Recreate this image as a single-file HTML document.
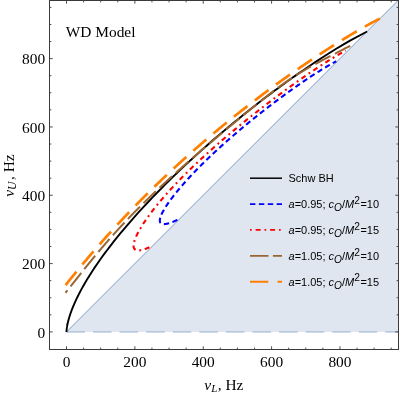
<!DOCTYPE html>
<html><head><meta charset="utf-8"><title>WD Model</title>
<style>
html,body{margin:0;padding:0;background:#fff;}
body{width:399px;height:393px;overflow:hidden;}
svg{display:block;will-change:transform;}
.ser{font-family:"Liberation Serif",serif;font-size:15.4px;fill:#000;}
.san{font-family:"Liberation Sans",sans-serif;font-size:11px;fill:#000;}
</style></head><body>
<svg width="399" height="393" viewBox="0 0 399 393">
<rect width="399" height="393" fill="#fff"/>
<path d="M66.50,331.90 L398.09,0.5 L398.5,0.5 L398.5,331.90 Z" fill="#dfe6f0"/>
<path d="M66.50,331.90 L398.09,0.5" fill="none" stroke="#5e81b5" stroke-opacity="0.85" stroke-width="0.9"/>
<path d="M66.50,331.90 H398.5" fill="none" stroke="#5e81b5" stroke-opacity="0.3" stroke-width="2" stroke-dasharray="18.5 8.07"/>
<g fill="none" stroke-linejoin="round">
<path d="M177.37,219.90 L177.12,220.01 L176.87,220.13 L176.63,220.24 L176.38,220.36 L176.14,220.47 L175.89,220.58 L175.65,220.69 L175.41,220.79 L175.18,220.90 L174.94,221.00 L174.71,221.10 L174.48,221.20 L174.25,221.30 L174.02,221.39 L173.79,221.49 L173.57,221.58 L173.34,221.67 L173.12,221.76 L172.90,221.85 L172.68,221.94 L172.47,222.02 L172.25,222.10 L172.04,222.19 L171.83,222.27 L171.62,222.34 L171.41,222.42 L171.20,222.49 L171.00,222.57 L170.80,222.64 L170.60,222.71 L170.40,222.78 L170.20,222.84 L170.00,222.91 L169.81,222.97 L169.62,223.03 L169.43,223.09 L169.24,223.15 L169.05,223.21 L168.87,223.26 L168.69,223.31 L168.51,223.36 L168.33,223.41 L168.15,223.46 L167.97,223.51 L167.80,223.55 L167.63,223.59 L167.46,223.63 L167.29,223.67 L167.12,223.71 L166.96,223.75 L166.80,223.78 L166.64,223.81 L166.48,223.85 L166.32,223.87 L166.16,223.90 L166.01,223.93 L165.86,223.95 L165.71,223.97 L165.56,223.99 L165.42,224.01 L165.27,224.03 L165.13,224.05 L164.99,224.06 L164.85,224.07 L164.71,224.08 L164.58,224.09 L164.45,224.10 L164.31,224.10 L164.19,224.11 L164.06,224.11 L163.93,224.11 L163.81,224.11 L163.69,224.11 L163.57,224.10 L163.45,224.10 L163.33,224.09 L163.22,224.08 L163.11,224.07 L163.00,224.05 L162.89,224.04 L162.78,224.02 L162.68,224.00 L162.58,223.98 L162.47,223.96 L162.38,223.94 L162.28,223.91 L162.18,223.89 L162.09,223.86 L162.00,223.83 L161.91,223.80 L161.82,223.76 L161.74,223.73 L161.65,223.69 L161.57,223.65 L161.49,223.61 L161.41,223.57 L161.34,223.53 L161.26,223.49 L161.19,223.44 L161.12,223.39 L161.05,223.34 L160.98,223.29 L160.92,223.24 L160.86,223.18 L160.79,223.12 L160.74,223.07 L160.68,223.01 L160.62,222.95 L160.57,222.88 L160.52,222.82 L160.47,222.75 L160.42,222.68 L160.37,222.61 L160.33,222.54 L160.29,222.47 L160.25,222.40 L160.21,222.32 L160.17,222.24 L160.14,222.16 L160.10,222.08 L160.07,222.00 L160.04,221.92 L160.02,221.83 L159.99,221.74 L159.97,221.65 L159.95,221.56 L159.93,221.47 L159.91,221.38 L159.89,221.28 L159.88,221.19 L159.87,221.09 L159.86,220.99 L159.85,220.89 L159.84,220.78 L159.84,220.68 L159.83,220.57 L159.83,220.46 L159.83,220.35 L159.84,220.24 L159.84,220.13 L159.85,220.02 L159.86,219.90 L159.87,219.78 L159.88,219.67 L159.89,219.55 L159.91,219.42 L159.92,219.30 L159.94,219.18 L159.96,219.05 L159.99,218.92 L160.01,218.79 L160.04,218.66 L160.07,218.53 L160.10,218.40 L160.13,218.26 L160.16,218.12 L160.20,217.98 L160.23,217.85 L160.27,217.70 L160.31,217.56 L160.36,217.42 L160.40,217.27 L160.45,217.12 L160.50,216.98 L160.55,216.82 L160.60,216.67 L160.65,216.52 L160.71,216.37 L160.76,216.21 L160.82,216.05 L160.88,215.89 L160.95,215.73 L161.01,215.57 L161.08,215.41 L161.14,215.24 L161.21,215.08 L161.28,214.91 L161.36,214.74 L161.43,214.57 L161.51,214.40 L161.59,214.23 L161.67,214.05 L161.75,213.88 L161.83,213.70 L161.92,213.52 L162.00,213.34 L162.09,213.16 L162.18,212.98 L162.27,212.79 L162.37,212.61 L162.46,212.42 L162.56,212.23 L162.66,212.04 L162.76,211.85 L162.86,211.66 L162.97,211.47 L163.07,211.27 L163.18,211.07 L163.29,210.88 L163.40,210.68 L163.51,210.48 L163.63,210.28 L163.74,210.07 L163.86,209.87 L163.98,209.66 L164.10,209.46 L164.22,209.25 L164.35,209.04 L164.47,208.83 L164.60,208.62 L164.73,208.40 L164.86,208.19 L164.99,207.97 L165.13,207.76 L165.26,207.54 L165.40,207.32 L165.54,207.10 L165.68,206.88 L165.82,206.65 L165.97,206.43 L166.11,206.20 L166.26,205.98 L166.41,205.75 L166.56,205.52 L166.71,205.29 L166.87,205.05 L167.02,204.82 L167.18,204.59 L167.34,204.35 L167.50,204.12 L167.66,203.88 L167.83,203.64 L167.99,203.40 L168.16,203.16 L168.33,202.91 L168.50,202.67 L168.67,202.43 L168.85,202.18 L169.02,201.93 L169.20,201.68 L169.38,201.43 L169.56,201.18 L169.74,200.93 L169.92,200.68 L170.11,200.42 L170.29,200.17 L170.48,199.91 L170.67,199.65 L170.86,199.40 L171.05,199.14 L171.25,198.88 L171.45,198.61 L171.64,198.35 L171.84,198.09 L172.04,197.82 L172.25,197.55 L172.45,197.29 L172.65,197.02 L172.86,196.75 L173.07,196.48 L173.28,196.21 L173.49,195.93 L173.71,195.66 L173.92,195.38 L174.14,195.11 L174.36,194.83 L174.58,194.55 L174.80,194.27 L175.02,193.99 L175.24,193.71 L175.47,193.43 L175.70,193.15 L175.93,192.86 L176.16,192.58 L176.39,192.29 L176.62,192.00 L176.86,191.72 L177.09,191.43 L177.33,191.14 L177.57,190.84 L177.81,190.55 L178.06,190.26 L178.30,189.96 L178.55,189.67 L178.80,189.37 L179.04,189.08 L179.30,188.78 L179.55,188.48 L179.80,188.18 L180.06,187.88 L180.31,187.58 L180.57,187.27 L180.83,186.97 L181.09,186.66 L181.36,186.36 L181.62,186.05 L181.89,185.74 L182.15,185.44 L182.42,185.13 L182.69,184.82 L182.97,184.51 L183.24,184.19 L183.51,183.88 L183.79,183.57 L184.07,183.25 L184.35,182.94 L184.63,182.62 L184.91,182.30 L185.20,181.98 L185.48,181.67 L185.77,181.35 L186.06,181.02 L186.35,180.70 L186.64,180.38 L186.93,180.06 L187.23,179.73 L187.52,179.41 L187.82,179.08 L188.12,178.76 L188.42,178.43 L188.72,178.10 L189.02,177.77 L189.33,177.44 L189.63,177.11 L189.94,176.78 L190.25,176.45 L190.56,176.11 L190.88,175.78 L191.19,175.45 L191.50,175.11 L191.82,174.77 L192.14,174.44 L192.46,174.10 L192.78,173.76 L193.10,173.42 L193.43,173.08 L193.75,172.74 L194.08,172.40 L194.41,172.06 L194.73,171.71 L195.07,171.37 L195.40,171.03 L195.73,170.68 L196.07,170.34 L196.40,169.99 L196.74,169.64 L197.08,169.30 L197.42,168.95 L197.76,168.60 L198.11,168.25 L198.45,167.90 L198.80,167.55 L199.15,167.20 L199.50,166.84 L199.85,166.49 L200.20,166.14 L200.55,165.78 L200.91,165.43 L201.26,165.07 L201.62,164.72 L201.98,164.36 L202.34,164.00 L202.70,163.64 L203.07,163.29 L203.43,162.93 L203.80,162.57 L204.16,162.21 L204.53,161.85 L204.90,161.48 L205.27,161.12 L205.64,160.76 L206.02,160.40 L206.39,160.03 L206.77,159.67 L207.15,159.30 L207.52,158.94 L207.90,158.57 L208.29,158.21 L208.67,157.84 L209.05,157.47 L209.44,157.11 L209.82,156.74 L210.21,156.37 L210.60,156.00 L210.99,155.63 L211.38,155.26 L211.77,154.89 L212.17,154.52 L212.56,154.15 L212.96,153.78 L213.36,153.40 L213.75,153.03 L214.15,152.66 L214.55,152.28 L214.96,151.91 L215.36,151.54 L215.76,151.16 L216.17,150.79 L216.58,150.41 L216.98,150.04 L217.39,149.66 L217.80,149.28 L218.21,148.91 L218.63,148.53 L219.04,148.15 L219.46,147.78 L219.87,147.40 L220.29,147.02 L220.71,146.64 L221.12,146.26 L221.54,145.88 L221.96,145.50 L222.39,145.12 L222.81,144.74 L223.23,144.36 L223.66,143.98 L224.08,143.60 L224.51,143.22 L224.94,142.84 L225.37,142.46 L225.80,142.08 L226.23,141.70 L226.66,141.31 L227.09,140.93 L227.53,140.55 L227.96,140.17 L228.40,139.78 L228.83,139.40 L229.27,139.02 L229.71,138.64 L230.15,138.25 L230.59,137.87 L231.03,137.49 L231.47,137.10 L231.91,136.72 L232.36,136.33 L232.80,135.95 L233.25,135.57 L233.69,135.18 L234.14,134.80 L234.58,134.42 L235.03,134.03 L235.48,133.65 L235.93,133.26 L236.38,132.88 L236.83,132.50 L237.28,132.11 L237.74,131.73 L238.19,131.34 L238.64,130.96 L239.10,130.58 L239.55,130.19 L240.01,129.81 L240.46,129.43 L240.92,129.04 L241.38,128.66 L241.84,128.28 L242.29,127.89 L242.75,127.51 L243.21,127.13 L243.67,126.74 L244.13,126.36 L244.59,125.98 L245.06,125.60 L245.52,125.21 L245.98,124.83 L246.44,124.45 L246.91,124.07 L247.37,123.69 L247.84,123.31 L248.30,122.93 L248.77,122.55 L249.23,122.17 L249.70,121.79 L250.16,121.41 L250.63,121.03 L251.10,120.65 L251.57,120.27 L252.03,119.89 L252.50,119.51 L252.97,119.13 L253.44,118.75 L253.91,118.38 L254.38,118.00 L254.85,117.62 L255.32,117.25 L255.79,116.87 L256.26,116.50 L256.73,116.12 L257.20,115.75 L257.67,115.37 L258.14,115.00 L258.61,114.63 L259.08,114.25 L259.55,113.88 L260.02,113.51 L260.49,113.14 L260.96,112.77 L261.43,112.39 L261.90,112.02 L262.38,111.66 L262.85,111.29 L263.32,110.92 L263.79,110.55 L264.26,110.18 L264.73,109.82 L265.20,109.45 L265.67,109.08 L266.15,108.72 L266.62,108.35 L267.09,107.99 L267.56,107.63 L268.03,107.27 L268.50,106.90 L268.97,106.54 L269.44,106.18 L269.91,105.82 L270.38,105.46 L270.85,105.10 L271.32,104.75 L271.78,104.39 L272.25,104.03 L272.72,103.68 L273.19,103.32 L273.66,102.97 L274.12,102.61 L274.59,102.26 L275.06,101.91 L275.52,101.56 L275.99,101.21 L276.46,100.86 L276.92,100.51 L277.39,100.16 L277.85,99.81 L278.31,99.47 L278.78,99.12 L279.24,98.78 L279.70,98.43 L280.16,98.09 L280.63,97.75 L281.09,97.41 L281.55,97.07 L282.01,96.73 L282.47,96.39 L282.93,96.05 L283.38,95.71 L283.84,95.38 L284.30,95.04 L284.76,94.71 L285.21,94.38 L285.67,94.04 L286.12,93.71 L286.57,93.38 L287.03,93.05 L287.48,92.73 L287.93,92.40 L288.38,92.07 L288.83,91.75 L289.28,91.42 L289.73,91.10 L290.18,90.78 L290.63,90.46 L291.07,90.14 L291.52,89.82 L291.96,89.50 L292.41,89.19 L292.85,88.87 L293.29,88.56 L293.74,88.24 L294.18,87.93 L294.62,87.62 L295.06,87.31 L295.49,87.00 L295.93,86.69 L296.37,86.39 L296.80,86.08 L297.24,85.78 L297.67,85.48 L298.10,85.17 L298.54,84.87 L298.97,84.57 L299.40,84.28 L299.82,83.98 L300.25,83.68 L300.68,83.39 L301.10,83.10 L301.53,82.80 L301.95,82.51 L302.37,82.22 L302.80,81.94 L303.22,81.65 L303.63,81.36 L304.05,81.08 L304.47,80.80 L304.89,80.51 L305.30,80.23 L305.71,79.95 L306.13,79.68 L306.54,79.40 L306.95,79.12 L307.36,78.85 L307.76,78.58 L308.17,78.30 L308.58,78.03 L308.98,77.77 L309.38,77.50 L309.79,77.23 L310.19,76.97 L310.59,76.70 L310.98,76.44 L311.38,76.18 L311.78,75.92 L312.17,75.66 L312.56,75.41 L312.96,75.15 L313.35,74.90 L313.74,74.65 L314.12,74.40 L314.51,74.15 L314.90,73.90 L315.28,73.65 L315.66,73.41 L316.04,73.16 L316.42,72.92 L316.80,72.68 L317.18,72.44 L317.56,72.20 L317.93,71.97 L318.30,71.73 L318.68,71.50 L319.05,71.26 L319.42,71.03 L319.78,70.80 L320.15,70.58 L320.52,70.35 L320.88,70.12 L321.24,69.90 L321.60,69.68 L321.96,69.46 L322.32,69.24 L322.68,69.02 L323.03,68.81 L323.38,68.59 L323.74,68.38 L324.09,68.17 L324.44,67.96 L324.78,67.75 L325.13,67.54 L325.48,67.34 L325.82,67.13 L326.16,66.93 L326.50,66.73 L326.84,66.53 L327.18,66.33 L327.51,66.14 L327.85,65.94 L328.18,65.75 L328.51,65.56 L328.84,65.37 L329.17,65.18 L329.50,64.99 L329.82,64.81 L330.15,64.62 L330.47,64.44 L330.79,64.26 L331.11,64.08 L331.43,63.90 L331.74,63.73 L332.06,63.55 L332.37,63.38 L332.68,63.21 L332.99,63.04 L333.30,62.87 L333.61,62.71 L333.91,62.54 L334.22,62.38 L334.52,62.22 L334.82,62.06 L335.12,61.90 L335.41,61.74 L335.71,61.58 L336.00,61.43 L336.30,61.28" stroke="#0000ff" stroke-width="2.1" stroke-dasharray="5.4 3.47"/>
<path d="M149.39,247.25 L149.14,247.37 L148.89,247.48 L148.65,247.58 L148.40,247.69 L148.16,247.79 L147.92,247.89 L147.68,247.99 L147.44,248.09 L147.21,248.19 L146.98,248.28 L146.75,248.37 L146.52,248.46 L146.29,248.55 L146.07,248.64 L145.85,248.72 L145.63,248.80 L145.41,248.88 L145.19,248.96 L144.98,249.04 L144.76,249.11 L144.55,249.18 L144.35,249.25 L144.14,249.32 L143.94,249.38 L143.73,249.45 L143.53,249.51 L143.34,249.57 L143.14,249.63 L142.95,249.68 L142.75,249.74 L142.56,249.79 L142.38,249.84 L142.19,249.89 L142.01,249.93 L141.82,249.98 L141.64,250.02 L141.47,250.06 L141.29,250.10 L141.12,250.13 L140.95,250.17 L140.78,250.20 L140.61,250.23 L140.44,250.26 L140.28,250.28 L140.12,250.31 L139.96,250.33 L139.80,250.35 L139.64,250.37 L139.49,250.38 L139.34,250.40 L139.19,250.41 L139.04,250.42 L138.89,250.43 L138.75,250.44 L138.61,250.44 L138.47,250.44 L138.33,250.44 L138.20,250.44 L138.06,250.44 L137.93,250.43 L137.80,250.43 L137.67,250.42 L137.55,250.41 L137.42,250.39 L137.30,250.38 L137.18,250.36 L137.06,250.34 L136.95,250.32 L136.83,250.30 L136.72,250.28 L136.61,250.25 L136.51,250.22 L136.40,250.19 L136.30,250.16 L136.19,250.12 L136.09,250.09 L136.00,250.05 L135.90,250.01 L135.81,249.97 L135.71,249.93 L135.62,249.88 L135.54,249.83 L135.45,249.78 L135.36,249.73 L135.28,249.68 L135.20,249.62 L135.12,249.57 L135.05,249.51 L134.97,249.45 L134.90,249.39 L134.83,249.32 L134.76,249.26 L134.69,249.19 L134.63,249.12 L134.57,249.05 L134.51,248.97 L134.45,248.90 L134.39,248.82 L134.33,248.74 L134.28,248.66 L134.23,248.58 L134.18,248.49 L134.13,248.41 L134.09,248.32 L134.04,248.23 L134.00,248.14 L133.96,248.04 L133.93,247.95 L133.89,247.85 L133.86,247.75 L133.82,247.65 L133.79,247.55 L133.77,247.44 L133.74,247.34 L133.71,247.23 L133.69,247.12 L133.67,247.01 L133.65,246.89 L133.64,246.78 L133.62,246.66 L133.61,246.54 L133.60,246.42 L133.59,246.30 L133.58,246.18 L133.58,246.05 L133.57,245.92 L133.57,245.79 L133.57,245.66 L133.57,245.53 L133.58,245.40 L133.58,245.26 L133.59,245.12 L133.60,244.98 L133.61,244.84 L133.62,244.70 L133.64,244.55 L133.66,244.41 L133.67,244.26 L133.70,244.11 L133.72,243.96 L133.74,243.80 L133.77,243.65 L133.80,243.49 L133.83,243.33 L133.86,243.17 L133.89,243.01 L133.93,242.85 L133.96,242.68 L134.00,242.51 L134.04,242.35 L134.09,242.18 L134.13,242.00 L134.18,241.83 L134.23,241.66 L134.28,241.48 L134.33,241.30 L134.38,241.12 L134.44,240.94 L134.50,240.76 L134.56,240.57 L134.62,240.38 L134.68,240.20 L134.75,240.01 L134.81,239.81 L134.88,239.62 L134.95,239.43 L135.02,239.23 L135.10,239.03 L135.17,238.83 L135.25,238.63 L135.33,238.43 L135.41,238.23 L135.50,238.02 L135.58,237.81 L135.67,237.60 L135.76,237.39 L135.85,237.18 L135.94,236.97 L136.03,236.75 L136.13,236.53 L136.23,236.32 L136.33,236.10 L136.43,235.88 L136.53,235.65 L136.63,235.43 L136.74,235.20 L136.85,234.97 L136.96,234.75 L137.07,234.51 L137.19,234.28 L137.30,234.05 L137.42,233.81 L137.54,233.58 L137.66,233.34 L137.78,233.10 L137.91,232.86 L138.04,232.62 L138.16,232.37 L138.30,232.13 L138.43,231.88 L138.56,231.63 L138.70,231.38 L138.84,231.13 L138.97,230.87 L139.12,230.62 L139.26,230.36 L139.40,230.11 L139.55,229.85 L139.70,229.59 L139.85,229.33 L140.00,229.06 L140.16,228.80 L140.31,228.53 L140.47,228.26 L140.63,228.00 L140.79,227.72 L140.95,227.45 L141.12,227.18 L141.29,226.90 L141.46,226.63 L141.63,226.35 L141.80,226.07 L141.97,225.79 L142.15,225.51 L142.33,225.23 L142.51,224.94 L142.69,224.66 L142.87,224.37 L143.06,224.08 L143.24,223.79 L143.43,223.50 L143.62,223.20 L143.82,222.91 L144.01,222.61 L144.21,222.32 L144.41,222.02 L144.61,221.72 L144.81,221.42 L145.01,221.12 L145.22,220.81 L145.43,220.51 L145.63,220.20 L145.85,219.89 L146.06,219.58 L146.27,219.27 L146.49,218.96 L146.71,218.65 L146.93,218.33 L147.15,218.02 L147.38,217.70 L147.60,217.38 L147.83,217.06 L148.06,216.74 L148.30,216.42 L148.53,216.09 L148.76,215.77 L149.00,215.44 L149.24,215.11 L149.48,214.78 L149.73,214.45 L149.97,214.12 L150.22,213.79 L150.47,213.46 L150.72,213.12 L150.97,212.78 L151.23,212.45 L151.48,212.11 L151.74,211.77 L152.00,211.42 L152.27,211.08 L152.53,210.74 L152.80,210.39 L153.07,210.04 L153.34,209.70 L153.61,209.35 L153.88,209.00 L154.16,208.65 L154.44,208.29 L154.72,207.94 L155.00,207.58 L155.28,207.23 L155.57,206.87 L155.86,206.51 L156.14,206.15 L156.44,205.79 L156.73,205.42 L157.03,205.06 L157.32,204.70 L157.62,204.33 L157.92,203.96 L158.23,203.59 L158.53,203.22 L158.84,202.85 L159.15,202.48 L159.46,202.11 L159.77,201.73 L160.09,201.36 L160.40,200.98 L160.72,200.60 L161.04,200.22 L161.37,199.84 L161.69,199.46 L162.02,199.08 L162.35,198.70 L162.68,198.31 L163.01,197.92 L163.35,197.54 L163.68,197.15 L164.02,196.76 L164.36,196.37 L164.70,195.98 L165.05,195.59 L165.39,195.19 L165.74,194.80 L166.09,194.40 L166.45,194.01 L166.80,193.61 L167.16,193.21 L167.51,192.81 L167.87,192.41 L168.24,192.00 L168.60,191.60 L168.97,191.20 L169.33,190.79 L169.70,190.39 L170.08,189.98 L170.45,189.57 L170.83,189.16 L171.20,188.75 L171.58,188.34 L171.97,187.93 L172.35,187.51 L172.74,187.10 L173.12,186.68 L173.51,186.27 L173.90,185.85 L174.30,185.43 L174.69,185.01 L175.09,184.59 L175.49,184.17 L175.89,183.75 L176.29,183.32 L176.70,182.90 L177.11,182.47 L177.51,182.05 L177.92,181.62 L178.34,181.19 L178.75,180.76 L179.17,180.34 L179.59,179.90 L180.01,179.47 L180.43,179.04 L180.85,178.61 L181.28,178.17 L181.71,177.74 L182.14,177.30 L182.57,176.87 L183.00,176.43 L183.44,175.99 L183.87,175.55 L184.31,175.11 L184.75,174.67 L185.20,174.23 L185.64,173.79 L186.09,173.34 L186.54,172.90 L186.99,172.46 L187.44,172.01 L187.89,171.56 L188.35,171.12 L188.80,170.67 L189.26,170.22 L189.72,169.77 L190.19,169.32 L190.65,168.87 L191.12,168.42 L191.59,167.97 L192.06,167.51 L192.53,167.06 L193.00,166.61 L193.47,166.15 L193.95,165.70 L194.43,165.24 L194.91,164.78 L195.39,164.33 L195.87,163.87 L196.36,163.41 L196.85,162.95 L197.33,162.49 L197.82,162.03 L198.32,161.57 L198.81,161.11 L199.30,160.65 L199.80,160.18 L200.30,159.72 L200.80,159.26 L201.30,158.79 L201.80,158.33 L202.31,157.86 L202.81,157.40 L203.32,156.93 L203.83,156.46 L204.34,156.00 L204.85,155.53 L205.37,155.06 L205.88,154.59 L206.40,154.12 L206.91,153.65 L207.43,153.18 L207.95,152.71 L208.48,152.24 L209.00,151.77 L209.53,151.30 L210.05,150.83 L210.58,150.36 L211.11,149.88 L211.64,149.41 L212.17,148.94 L212.70,148.47 L213.24,147.99 L213.77,147.52 L214.31,147.04 L214.85,146.57 L215.39,146.09 L215.93,145.62 L216.47,145.14 L217.02,144.67 L217.56,144.19 L218.11,143.72 L218.65,143.24 L219.20,142.77 L219.75,142.29 L220.30,141.81 L220.85,141.34 L221.40,140.86 L221.96,140.38 L222.51,139.91 L223.07,139.43 L223.63,138.95 L224.18,138.47 L224.74,138.00 L225.30,137.52 L225.86,137.04 L226.42,136.56 L226.99,136.09 L227.55,135.61 L228.12,135.13 L228.68,134.66 L229.25,134.18 L229.81,133.70 L230.38,133.22 L230.95,132.75 L231.52,132.27 L232.09,131.79 L232.66,131.32 L233.23,130.84 L233.81,130.36 L234.38,129.89 L234.95,129.41 L235.53,128.93 L236.10,128.46 L236.68,127.98 L237.26,127.51 L237.83,127.03 L238.41,126.56 L238.99,126.08 L239.57,125.61 L240.15,125.13 L240.73,124.66 L241.31,124.19 L241.89,123.71 L242.47,123.24 L243.06,122.77 L243.64,122.30 L244.22,121.82 L244.80,121.35 L245.39,120.88 L245.97,120.41 L246.56,119.94 L247.14,119.47 L247.73,119.00 L248.31,118.53 L248.90,118.06 L249.48,117.60 L250.07,117.13 L250.66,116.66 L251.24,116.20 L251.83,115.73 L252.42,115.26 L253.00,114.80 L253.59,114.34 L254.18,113.87 L254.77,113.41 L255.35,112.95 L255.94,112.48 L256.53,112.02 L257.12,111.56 L257.70,111.10 L258.29,110.64 L258.88,110.19 L259.47,109.73 L260.05,109.27 L260.64,108.81 L261.23,108.36 L261.82,107.90 L262.40,107.45 L262.99,107.00 L263.57,106.54 L264.16,106.09 L264.75,105.64 L265.33,105.19 L265.92,104.74 L266.50,104.29 L267.09,103.85 L267.67,103.40 L268.26,102.95 L268.84,102.51 L269.42,102.06 L270.01,101.62 L270.59,101.18 L271.17,100.74 L271.75,100.30 L272.33,99.86 L272.92,99.42 L273.50,98.98 L274.08,98.55 L274.65,98.11 L275.23,97.68 L275.81,97.25 L276.39,96.81 L276.97,96.38 L277.54,95.95 L278.12,95.52 L278.69,95.10 L279.27,94.67 L279.84,94.24 L280.41,93.82 L280.98,93.40 L281.56,92.98 L282.13,92.55 L282.70,92.13 L283.26,91.72 L283.83,91.30 L284.40,90.88 L284.97,90.47 L285.53,90.05 L286.10,89.64 L286.66,89.23 L287.22,88.82 L287.78,88.41 L288.35,88.01 L288.91,87.60 L289.46,87.20 L290.02,86.79 L290.58,86.39 L291.13,85.99 L291.69,85.59 L292.24,85.19 L292.80,84.80 L293.35,84.40 L293.90,84.01 L294.45,83.62 L294.99,83.23 L295.54,82.84 L296.09,82.45 L296.63,82.06 L297.18,81.68 L297.72,81.29 L298.26,80.91 L298.80,80.53 L299.34,80.15 L299.87,79.77 L300.41,79.40 L300.95,79.02 L301.48,78.65 L302.01,78.28 L302.54,77.91 L303.07,77.54 L303.60,77.17 L304.13,76.81 L304.65,76.44 L305.17,76.08 L305.70,75.72 L306.22,75.36 L306.74,75.00 L307.26,74.65 L307.77,74.29 L308.29,73.94 L308.80,73.59 L309.31,73.24 L309.83,72.89 L310.33,72.55 L310.84,72.20 L311.35,71.86 L311.85,71.52 L312.36,71.18 L312.86,70.84 L313.36,70.51 L313.86,70.17 L314.35,69.84 L314.85,69.51 L315.34,69.18 L315.83,68.86 L316.32,68.53 L316.81,68.21 L317.30,67.88 L317.79,67.56 L318.27,67.25 L318.75,66.93 L319.23,66.61 L319.71,66.30 L320.19,65.99 L320.66,65.68 L321.14,65.37 L321.61,65.07 L322.08,64.76 L322.55,64.46 L323.01,64.16 L323.48,63.86 L323.94,63.57 L324.40,63.27 L324.86,62.98 L325.32,62.69 L325.78,62.40 L326.23,62.11 L326.68,61.82 L327.13,61.54 L327.58,61.26 L328.03,60.98 L328.47,60.70 L328.92,60.42 L329.36,60.15 L329.80,59.88 L330.24,59.61 L330.67,59.34 L331.11,59.07 L331.54,58.81 L331.97,58.54 L332.40,58.28 L332.82,58.02 L333.25,57.76 L333.67,57.51 L334.09,57.26 L334.51,57.00 L334.93,56.76 L335.34,56.51 L335.76,56.26 L336.17,56.02 L336.58,55.78 L336.99,55.54 L337.39,55.30 L337.79,55.06 L338.20,54.83 L338.60,54.60 L338.99,54.37 L339.39,54.14 L339.78,53.91 L340.18,53.69 L340.57,53.47 L340.95,53.24 L341.34,53.03 L341.72,52.81 L342.11,52.60 L342.49,52.38 L342.87,52.17 L343.24,51.96 L343.62,51.76 L343.99,51.55 L344.36,51.35 L344.73,51.15 L345.10,50.95 L345.46,50.75 L345.82,50.56" stroke="#ff0000" stroke-width="2.1" stroke-dasharray="5 3.75 1.9 3.75"/>
<path d="M367.09,31.49 L350.01,40.65 L342.33,45.11 L336.24,48.78 L330.99,52.02 L326.28,54.98 L321.97,57.74 L317.97,60.35 L314.21,62.82 L310.66,65.19 L307.28,67.47 L304.05,69.67 L300.96,71.80 L297.98,73.87 L295.12,75.88 L292.34,77.83 L289.66,79.74 L287.06,81.60 L284.53,83.43 L282.08,85.21 L279.69,86.96 L277.36,88.67 L275.09,90.35 L272.87,92.00 L270.71,93.62 L268.59,95.21 L266.52,96.77 L264.50,98.31 L262.52,99.83 L260.57,101.32 L258.67,102.79 L256.80,104.24 L254.97,105.66 L253.18,107.07 L251.41,108.45 L249.68,109.82 L247.98,111.17 L246.31,112.50 L244.66,113.81 L243.05,115.11 L241.46,116.39 L239.90,117.65 L238.36,118.90 L236.85,120.13 L235.36,121.35 L233.89,122.55 L232.45,123.74 L231.02,124.91 L229.62,126.08 L228.24,127.23 L226.88,128.36 L225.54,129.48 L224.22,130.60 L222.92,131.69 L221.63,132.78 L220.37,133.86 L219.12,134.92 L217.89,135.97 L216.67,137.02 L215.47,138.05 L214.29,139.07 L213.12,140.08 L211.96,141.08 L210.83,142.07 L209.70,143.05 L208.59,144.02 L207.50,144.98 L206.42,145.93 L205.35,146.88 L204.29,147.81 L203.25,148.74 L202.22,149.65 L201.20,150.56 L200.20,151.46 L199.20,152.35 L198.22,153.24 L197.25,154.11 L196.29,154.98 L195.35,155.84 L194.41,156.69 L193.48,157.54 L192.57,158.37 L191.66,159.20 L190.77,160.03 L189.88,160.84 L189.01,161.65 L188.14,162.45 L187.29,163.25 L186.44,164.03 L185.60,164.82 L184.77,165.59 L183.95,166.36 L183.14,167.12 L182.34,167.88 L181.55,168.63 L180.76,169.37 L179.98,170.11 L179.22,170.84 L178.45,171.56 L177.70,172.28 L176.96,173.00 L176.22,173.70 L175.49,174.41 L174.76,175.10 L174.05,175.80 L173.34,176.48 L172.64,177.16 L171.94,177.84 L171.26,178.51 L170.58,179.17 L169.90,179.83 L169.23,180.49 L168.57,181.14 L167.92,181.79 L167.27,182.43 L166.63,183.06 L165.99,183.69 L165.36,184.32 L164.74,184.94 L164.12,185.56 L164.12,185.56 L158.25,191.49 L152.78,197.12 L147.68,202.49 L142.91,207.59 L138.46,212.46 L134.30,217.11 L130.39,221.54 L126.74,225.77 L123.31,229.82 L120.09,233.69 L117.07,237.39 L114.23,240.94 L111.56,244.33 L109.04,247.59 L106.68,250.70 L104.46,253.69 L102.36,256.55 L100.39,259.30 L98.53,261.94 L96.78,264.47 L95.12,266.90 L93.57,269.24 L92.10,271.48 L90.71,273.64 L89.40,275.71 L88.16,277.70 L87.00,279.61 L85.90,281.45 L84.86,283.23 L83.87,284.93 L82.94,286.57 L82.06,288.15 L81.24,289.67 L80.45,291.13 L79.71,292.54 L79.01,293.89 L78.34,295.20 L77.72,296.46 L77.12,297.67 L76.56,298.84 L76.03,299.96 L75.53,301.05 L75.05,302.09 L74.60,303.10 L74.18,304.08 L73.78,305.01 L73.39,305.92 L73.03,306.79 L72.69,307.63 L72.37,308.44 L72.06,309.23 L71.77,309.98 L71.50,310.71 L71.23,311.42 L70.99,312.10 L70.75,312.75 L70.53,313.38 L70.32,314.00 L70.12,314.59 L69.94,315.16 L69.76,315.71 L69.59,316.24 L69.43,316.75 L69.28,317.25 L69.13,317.73 L69.00,318.19 L68.87,318.64 L68.75,319.07 L68.63,319.49 L68.52,319.89 L68.42,320.28 L68.32,320.66 L68.22,321.02 L68.13,321.37 L68.05,321.71 L67.97,322.04 L67.89,322.36 L67.82,322.67 L67.75,322.96 L67.69,323.25 L67.63,323.53 L67.57,323.80 L67.52,324.06 L67.46,324.31 L67.41,324.55 L67.37,324.79 L67.32,325.01 L67.28,325.23 L67.24,325.45 L67.20,325.65 L67.17,325.85 L67.13,326.04 L67.10,326.23 L67.07,326.41 L67.04,326.58 L67.01,326.75 L66.99,326.92 L66.96,327.07 L66.94,327.23 L66.92,327.37 L66.89,327.52 L66.87,327.66 L66.85,327.79 L66.84,327.92 L66.82,328.05 L66.80,328.17 L66.79,328.28 L66.77,328.40 L66.76,328.51 L66.75,328.62 L66.73,328.72 L66.72,328.82 L66.71,328.92 L66.70,329.01 L66.69,329.10 L66.68,329.19 L66.67,329.27 L66.66,329.36 L66.65,329.44 L66.65,329.51 L66.64,329.59 L66.63,329.66 L66.62,329.73 L66.62,329.80 L66.61,329.86 L66.61,329.93 L66.60,329.99 L66.60,330.05 L66.59,330.11 L66.59,330.16 L66.58,330.22 L66.58,330.27 L66.57,330.32 L66.57,330.37 L66.57,330.42 L66.56,330.46 L66.56,330.51 L66.56,330.55 L66.55,330.59 L66.55,330.63 L66.55,330.67 L66.55,330.71 L66.54,330.75 L66.54,330.78 L66.54,330.82 L66.54,330.85 L66.54,330.88 L66.53,330.92 L66.53,330.95 L66.53,330.98 L66.53,331.01 L66.53,331.03 L66.53,331.06 L66.52,331.09 L66.52,331.11 L66.52,331.14 L66.52,331.16 L66.52,331.18 L66.52,331.20 L66.52,331.23 L66.52,331.25 L66.52,331.27 L66.52,331.29 L66.51,331.31 L66.51,331.32 L66.51,331.34 L66.51,331.36 L66.51,331.38 L66.51,331.39 L66.51,331.41 L66.51,331.42 L66.51,331.44 L66.51,331.45 L66.51,331.47 L66.51,331.48 L66.51,331.49 L66.51,331.50 L66.51,331.52 L66.51,331.53 L66.51,331.54 L66.51,331.55 L66.51,331.56 L66.51,331.57 L66.51,331.58 L66.50,331.59 L66.50,331.60 L66.50,331.61 L66.50,331.62 L66.50,331.63 L66.50,331.64 L66.50,331.65 L66.50,331.65 L66.50,331.66 L66.50,331.67 L66.50,331.68 L66.50,331.68 L66.50,331.69 L66.50,331.70 L66.50,331.70 L66.50,331.71 L66.50,331.71 L66.50,331.72 L66.50,331.72 L66.50,331.73 L66.50,331.74 L66.50,331.74 L66.50,331.75 L66.50,331.75 L66.50,331.75 L66.50,331.76 L66.50,331.76 L66.50,331.77 L66.50,331.77 L66.50,331.78 L66.50,331.78 L66.50,331.78 L66.50,331.79 L66.50,331.79 L66.50,331.79 L66.50,331.80 L66.50,331.80 L66.50,331.80 L66.50,331.81 L66.50,331.81 L66.50,331.81 L66.50,331.81 L66.50,331.82 L66.50,331.82 L66.50,331.82 L66.50,331.82 L66.50,331.83 L66.50,331.83 L66.50,331.83 L66.50,331.83 L66.50,331.84 L66.50,331.84 L66.50,331.84 L66.50,331.84 L66.50,331.84 L66.50,331.84 L66.50,331.85 L66.50,331.85 L66.50,331.85 L66.50,331.85 L66.50,331.85 L66.50,331.85 L66.50,331.86 L66.50,331.86 L66.50,331.86 L66.50,331.86 L66.50,331.86 L66.50,331.86 L66.50,331.86 L66.50,331.86 L66.50,331.87 L66.50,331.87 L66.50,331.87 L66.50,331.87 L66.50,331.87 L66.50,331.87 L66.50,331.87 L66.50,331.87 L66.50,331.87 L66.50,331.87 L66.50,331.87 L66.50,331.88 L66.50,331.88 L66.50,331.88 L66.50,331.88 L66.50,331.88 L66.50,331.88 L66.50,331.88 L66.50,331.88 L66.50,331.88 L66.50,331.88 L66.50,331.88 L66.50,331.88 L66.50,331.88 L66.50,331.88 L66.50,331.88 L66.50,331.88 L66.50,331.89 L66.50,331.89 L66.50,331.89 L66.50,331.89 L66.50,331.89 L66.50,331.89 L66.50,331.89 L66.50,331.89 L66.50,331.89 L66.50,331.89 L66.50,331.89 L66.50,331.89 L66.50,331.89 L66.50,331.89 L66.50,331.89 L66.50,331.89 L66.50,331.89 L66.50,331.89 L66.50,331.89 L66.50,331.89 L66.50,331.89 L66.50,331.90 L66.50,331.90 L66.50,331.90 L66.50,331.90 L66.50,331.90 L66.50,331.90 L66.50,331.90 L66.50,331.90 L66.50,331.90 L66.50,331.90 L66.50,331.90 L66.50,331.90 L66.50,331.90 L66.50,331.90 L66.50,331.90 L66.50,331.90 L66.50,331.90 L66.50,331.90 L66.50,331.90 L66.50,331.90 L66.50,331.90 L66.50,331.90 L66.50,331.90 L66.50,331.90 L66.50,331.90 L66.50,331.90 L66.50,331.90 L66.50,331.90 L66.50,331.90 L66.50,331.90 L66.50,331.90 L66.50,331.90 L66.50,331.90 L66.50,331.90 L66.50,331.90 L66.50,331.90 L66.50,331.90 L66.50,331.90 L66.50,331.90 L66.50,331.90 L66.50,331.90 L66.50,331.90 L66.50,331.90 L66.50,331.90 L66.50,331.90 L66.50,331.90 L66.50,331.90 L66.50,331.90 L66.50,331.90 L66.50,331.90 L66.50,331.90 L66.50,331.90 L66.50,331.90 L66.50,331.90 L66.50,331.90 L66.50,331.90 L66.50,331.90" stroke="#000" stroke-width="1.9"/>
<path d="M65.56,292.79 L66.07,292.14 L66.59,291.49 L67.10,290.84 L67.61,290.19 L68.12,289.55 L68.63,288.91 L69.13,288.26 L69.64,287.62 L70.14,286.98 L70.64,286.35 L71.15,285.71 L71.65,285.07 L72.15,284.44 L72.65,283.81 L73.15,283.17 L73.64,282.54 L74.14,281.91 L74.64,281.29 L75.13,280.66 L75.63,280.03 L76.12,279.41 L76.62,278.78 L77.11,278.16 L77.60,277.54 L78.09,276.92 L78.59,276.29 L79.08,275.68 L79.57,275.06 L80.06,274.44 L80.55,273.82 L81.04,273.21 L81.53,272.59 L82.02,271.98 L82.51,271.36 L83.00,270.75 L83.49,270.14 L83.98,269.53 L84.46,268.92 L84.95,268.31 L85.44,267.70 L85.93,267.09 L86.42,266.49 L86.91,265.88 L87.40,265.27 L87.89,264.67 L88.38,264.06 L88.87,263.46 L89.36,262.86 L89.85,262.25 L90.34,261.65 L90.83,261.05 L91.33,260.45 L91.82,259.85 L92.31,259.25 L92.80,258.65 L93.30,258.05 L93.79,257.45 L94.29,256.85 L94.78,256.25 L95.28,255.66 L95.77,255.06 L96.27,254.46 L96.77,253.87 L97.26,253.27 L97.76,252.68 L98.26,252.08 L98.76,251.49 L99.26,250.90 L99.76,250.30 L100.26,249.71 L100.77,249.12 L101.27,248.53 L101.77,247.93 L102.28,247.34 L102.78,246.75 L103.29,246.16 L103.80,245.57 L104.31,244.98 L104.82,244.39 L105.33,243.80 L105.84,243.21 L106.35,242.62 L106.86,242.03 L107.37,241.45 L107.89,240.86 L108.40,240.27 L108.92,239.68 L109.44,239.10 L109.96,238.51 L110.47,237.92 L110.99,237.34 L111.52,236.75 L112.04,236.16 L112.56,235.58 L113.09,234.99 L113.61,234.41 L114.14,233.82 L114.66,233.24 L115.19,232.65 L115.72,232.07 L116.25,231.48 L116.78,230.90 L117.32,230.32 L117.85,229.73 L118.39,229.15 L118.92,228.57 L119.46,227.98 L120.00,227.40 L120.53,226.82 L121.08,226.23 L121.62,225.65 L122.16,225.07 L122.70,224.49 L123.25,223.91 L123.79,223.33 L124.34,222.74 L124.89,222.16 L125.43,221.58 L125.98,221.00 L126.54,220.42 L127.09,219.84 L127.64,219.26 L128.19,218.68 L128.75,218.10 L129.31,217.52 L129.86,216.94 L130.42,216.36 L130.98,215.79 L131.54,215.21 L132.10,214.63 L132.67,214.05 L133.23,213.47 L133.79,212.90 L134.36,212.32 L134.93,211.74 L135.49,211.16 L136.06,210.59 L136.63,210.01 L137.20,209.43 L137.77,208.86 L138.35,208.28 L138.92,207.71 L139.50,207.13 L140.07,206.56 L140.65,205.98 L141.22,205.41 L141.80,204.83 L142.38,204.26 L142.96,203.69 L143.54,203.11 L144.12,202.54 L144.71,201.97 L145.29,201.40 L145.88,200.82 L146.46,200.25 L147.05,199.68 L147.63,199.11 L148.22,198.54 L148.81,197.97 L149.40,197.40 L149.99,196.83 L150.58,196.26 L151.17,195.69 L151.76,195.12 L152.36,194.55 L152.95,193.99 L153.54,193.42 L154.14,192.85 L154.73,192.29 L155.33,191.72 L155.93,191.15 L156.52,190.59 L157.12,190.02 L157.72,189.46 L158.32,188.90 L158.92,188.33 L159.52,187.77 L160.12,187.21 L160.72,186.65 L161.32,186.08 L161.93,185.52 L162.53,184.96 L163.13,184.40 L163.74,183.84 L164.34,183.29 L164.94,182.73 L165.55,182.17 L166.15,181.61 L166.76,181.06 L167.36,180.50 L167.97,179.94 L168.58,179.39 L169.18,178.84 L169.79,178.28 L170.39,177.73 L171.00,177.18 L171.61,176.63 L172.22,176.08 L172.82,175.53 L173.43,174.98 L174.04,174.43 L174.65,173.88 L175.25,173.33 L175.86,172.78 L176.47,172.24 L177.08,171.69 L177.69,171.15 L178.29,170.61 L178.90,170.06 L179.51,169.52 L180.12,168.98 L180.72,168.44 L181.33,167.90 L181.94,167.36 L182.54,166.82 L183.15,166.28 L183.76,165.75 L184.36,165.21 L184.97,164.68 L185.57,164.14 L186.18,163.61 L186.79,163.08 L187.39,162.55 L187.99,162.02 L188.60,161.49 L189.20,160.96 L189.80,160.43 L190.41,159.91 L191.01,159.38 L191.61,158.86 L192.21,158.33 L192.81,157.81 L193.41,157.29 L194.01,156.77 L194.61,156.25 L195.21,155.73 L195.81,155.21 L196.40,154.70 L197.00,154.18 L197.60,153.67 L198.19,153.16 L198.79,152.64 L199.38,152.13 L199.97,151.62 L200.56,151.12 L201.15,150.61 L201.74,150.10 L202.33,149.60 L202.92,149.09 L203.51,148.59 L204.10,148.09 L204.68,147.59 L205.27,147.09 L205.85,146.59 L206.43,146.10 L207.01,145.60 L207.60,145.11 L208.18,144.62 L208.75,144.12 L209.33,143.63 L209.91,143.14 L210.48,142.66 L211.06,142.17 L211.63,141.69 L212.20,141.20 L212.77,140.72 L213.34,140.24 L213.91,139.76 L214.48,139.28 L215.04,138.80 L215.61,138.33 L216.17,137.86 L216.73,137.38 L217.29,136.91 L217.85,136.44 L218.41,135.97 L218.97,135.51 L219.52,135.04 L220.07,134.58 L220.63,134.11 L221.18,133.65 L221.73,133.19 L222.27,132.73 L222.82,132.28 L223.36,131.82 L223.91,131.37 L224.45,130.92 L224.99,130.47 L225.53,130.02 L226.07,129.57 L226.60,129.12 L227.14,128.68 L227.67,128.23 L228.20,127.79 L228.73,127.35 L229.25,126.91 L229.78,126.48 L230.30,126.04 L230.83,125.61 L231.35,125.18 L231.87,124.75 L232.38,124.32 L232.90,123.89 L233.41,123.46 L233.93,123.04 L234.44,122.62 L234.94,122.20 L235.45,121.78 L235.96,121.36 L236.46,120.94 L236.96,120.53 L237.46,120.11 L237.96,119.70 L238.46,119.29 L238.95,118.89 L239.44,118.48 L239.94,118.07 L240.42,117.67 L240.91,117.27 L241.40,116.87 L241.88,116.47 L242.36,116.08 L242.84,115.68 L243.32,115.29 L243.80,114.90 L244.27,114.51 L244.75,114.12 L245.22,113.73 L245.69,113.35 L246.15,112.96 L246.62,112.58 L247.08,112.20 L247.55,111.82 L248.01,111.45 L248.46,111.07 L248.92,110.70 L249.38,110.32 L249.83,109.95 L250.28,109.59 L250.73,109.22 L251.18,108.85 L251.62,108.49 L252.07,108.13 L252.51,107.77 L252.95,107.41 L253.39,107.05 L253.83,106.69 L254.26,106.34 L254.70,105.99 L255.13,105.64 L255.56,105.29 L255.99,104.94 L256.42,104.59 L256.84,104.25 L257.27,103.91 L257.69,103.56 L258.11,103.22 L258.53,102.88 L258.95,102.55 L259.36,102.21 L259.78,101.88 L260.19,101.55 L260.60,101.21 L261.01,100.88 L261.42,100.56 L261.83,100.23 L262.24,99.90 L262.64,99.58 L263.05,99.26 L263.45,98.94 L263.85,98.62 L264.25,98.30 L264.65,97.98 L265.04,97.66 L265.44,97.35 L265.84,97.04 L266.23,96.73 L266.62,96.42 L267.01,96.11 L267.40,95.80 L267.79,95.49 L268.18,95.19 L268.57,94.88 L268.96,94.58 L269.34,94.28 L269.73,93.98 L270.11,93.68 L270.50,93.38 L270.88,93.08 L271.26,92.78 L271.64,92.49 L272.02,92.19 L272.40,91.90 L272.78,91.61 L273.16,91.32 L273.54,91.03 L273.92,90.74 L274.30,90.45 L274.68,90.16 L275.06,89.87 L275.43,89.59 L275.81,89.30 L276.19,89.02 L276.57,88.73 L276.94,88.45 L277.32,88.17 L277.70,87.89 L278.08,87.61 L278.45,87.33 L278.83,87.05 L279.21,86.77 L279.59,86.49 L279.97,86.21 L280.35,85.93 L280.73,85.66 L281.11,85.38 L281.49,85.10 L281.87,84.83 L282.26,84.55 L282.64,84.28 L283.03,84.00 L283.41,83.73 L283.80,83.45 L284.19,83.18 L284.58,82.90 L284.97,82.63 L285.36,82.36 L285.76,82.08 L286.15,81.81 L286.55,81.53 L286.95,81.26 L287.35,80.98 L287.75,80.71 L288.16,80.43 L288.56,80.16 L288.97,79.88 L289.38,79.61 L289.80,79.33 L290.21,79.05 L290.63,78.78 L291.05,78.50 L291.47,78.22 L291.90,77.94 L292.33,77.66 L292.76,77.38 L293.19,77.10 L293.63,76.82 L294.07,76.54 L294.52,76.25 L294.96,75.97 L295.41,75.68 L295.87,75.40 L296.33,75.11 L296.79,74.82 L297.25,74.53 L297.72,74.24 L298.20,73.95 L298.67,73.65 L299.16,73.36 L299.64,73.06 L300.13,72.76 L300.63,72.46 L301.13,72.16 L301.64,71.86 L302.15,71.55 L302.66,71.25 L303.18,70.94 L303.71,70.63 L304.24,70.31 L304.78,70.00 L305.32,69.68 L305.87,69.36 L306.43,69.04 L306.99,68.72 L307.55,68.39 L308.13,68.06 L308.71,67.73 L309.29,67.40 L309.89,67.06 L310.49,66.72 L311.10,66.38 L311.71,66.04 L312.33,65.69 L312.96,65.34 L313.60,64.99 L314.25,64.63 L314.90,64.27 L315.56,63.91 L316.23,63.54 L316.91,63.17 L317.59,62.80 L318.29,62.42 L318.99,62.04 L319.70,61.65 L320.42,61.26 L321.16,60.87 L321.90,60.48 L322.65,60.08 L323.41,59.67 L324.18,59.26 L324.96,58.85 L325.75,58.43 L326.55,58.01 L327.36,57.58 L328.18,57.15 L329.02,56.72 L329.86,56.27 L330.72,55.83 L331.59,55.38 L332.46,54.92 L333.36,54.46 L334.26,53.99 L335.18,53.52 L336.10,53.04 L337.04,52.56 L338.00,52.07 L338.97,51.58 L339.95,51.08 L340.94,50.57 L341.95,50.06 L342.97,49.54 L344.00,49.01 L345.05,48.48 L346.12,47.94 L347.20,47.40 L348.29,46.85 L349.40,46.29 L350.52,45.72" stroke="#996633" stroke-width="2.0" stroke-dasharray="17.2 4.96" stroke-dashoffset="14.1"/>
<path d="M65.63,285.06 L66.17,284.38 L66.70,283.70 L67.24,283.03 L67.78,282.36 L68.32,281.68 L68.86,281.01 L69.40,280.34 L69.94,279.66 L70.48,278.99 L71.02,278.32 L71.56,277.65 L72.11,276.98 L72.65,276.31 L73.19,275.64 L73.73,274.98 L74.28,274.31 L74.82,273.64 L75.37,272.98 L75.91,272.31 L76.46,271.64 L77.00,270.98 L77.55,270.32 L78.10,269.65 L78.64,268.99 L79.19,268.33 L79.74,267.66 L80.29,267.00 L80.83,266.34 L81.38,265.68 L81.93,265.02 L82.48,264.36 L83.03,263.70 L83.58,263.04 L84.14,262.39 L84.69,261.73 L85.24,261.07 L85.79,260.42 L86.35,259.76 L86.90,259.11 L87.45,258.45 L88.01,257.80 L88.56,257.14 L89.12,256.49 L89.68,255.84 L90.23,255.19 L90.79,254.54 L91.35,253.88 L91.90,253.23 L92.46,252.58 L93.02,251.93 L93.58,251.29 L94.14,250.64 L94.70,249.99 L95.26,249.34 L95.82,248.70 L96.39,248.05 L96.95,247.40 L97.51,246.76 L98.08,246.11 L98.64,245.47 L99.20,244.82 L99.77,244.18 L100.33,243.54 L100.90,242.90 L101.47,242.25 L102.03,241.61 L102.60,240.97 L103.17,240.33 L103.74,239.69 L104.31,239.05 L104.88,238.41 L105.45,237.78 L106.02,237.14 L106.59,236.50 L107.16,235.86 L107.73,235.23 L108.31,234.59 L108.88,233.96 L109.45,233.32 L110.03,232.69 L110.60,232.05 L111.18,231.42 L111.75,230.79 L112.33,230.16 L112.91,229.52 L113.49,228.89 L114.06,228.26 L114.64,227.63 L115.22,227.00 L115.80,226.37 L116.38,225.74 L116.96,225.11 L117.54,224.49 L118.12,223.86 L118.71,223.23 L119.29,222.61 L119.87,221.98 L120.46,221.35 L121.04,220.73 L121.63,220.11 L122.21,219.48 L122.80,218.86 L123.39,218.24 L123.97,217.61 L124.56,216.99 L125.15,216.37 L125.74,215.75 L126.33,215.13 L126.92,214.51 L127.51,213.89 L128.10,213.27 L128.69,212.65 L129.28,212.03 L129.87,211.41 L130.47,210.80 L131.06,210.18 L131.66,209.56 L132.25,208.95 L132.85,208.33 L133.44,207.72 L134.04,207.10 L134.64,206.49 L135.23,205.88 L135.83,205.27 L136.43,204.65 L137.03,204.04 L137.63,203.43 L138.23,202.82 L138.83,202.21 L139.43,201.60 L140.03,200.99 L140.63,200.38 L141.24,199.77 L141.84,199.17 L142.44,198.56 L143.05,197.95 L143.65,197.35 L144.26,196.74 L144.86,196.13 L145.47,195.53 L146.08,194.93 L146.68,194.32 L147.29,193.72 L147.90,193.12 L148.51,192.51 L149.12,191.91 L149.73,191.31 L150.34,190.71 L150.95,190.11 L151.56,189.51 L152.17,188.91 L152.79,188.31 L153.40,187.71 L154.01,187.12 L154.63,186.52 L155.24,185.92 L155.86,185.33 L156.47,184.73 L157.09,184.13 L157.70,183.54 L158.32,182.95 L158.94,182.35 L159.56,181.76 L160.18,181.17 L160.79,180.57 L161.41,179.98 L162.03,179.39 L162.65,178.80 L163.28,178.21 L163.90,177.62 L164.52,177.03 L165.14,176.45 L165.76,175.86 L166.39,175.27 L167.01,174.68 L167.63,174.10 L168.26,173.51 L168.88,172.93 L169.51,172.34 L170.13,171.76 L170.76,171.17 L171.39,170.59 L172.01,170.01 L172.64,169.43 L173.27,168.84 L173.90,168.26 L174.53,167.68 L175.16,167.10 L175.79,166.52 L176.42,165.95 L177.05,165.37 L177.68,164.79 L178.31,164.21 L178.94,163.64 L179.57,163.06 L180.21,162.49 L180.84,161.91 L181.47,161.34 L182.11,160.76 L182.74,160.19 L183.38,159.62 L184.01,159.04 L184.65,158.47 L185.28,157.90 L185.92,157.33 L186.56,156.76 L187.19,156.19 L187.83,155.62 L188.47,155.06 L189.11,154.49 L189.74,153.92 L190.38,153.36 L191.02,152.79 L191.66,152.23 L192.30,151.66 L192.94,151.10 L193.58,150.53 L194.22,149.97 L194.86,149.41 L195.50,148.85 L196.15,148.29 L196.79,147.73 L197.43,147.17 L198.07,146.61 L198.72,146.05 L199.36,145.49 L200.00,144.93 L200.65,144.38 L201.29,143.82 L201.93,143.27 L202.58,142.71 L203.22,142.16 L203.87,141.60 L204.51,141.05 L205.16,140.50 L205.81,139.95 L206.45,139.40 L207.10,138.84 L207.75,138.30 L208.39,137.75 L209.04,137.20 L209.69,136.65 L210.34,136.10 L210.98,135.56 L211.63,135.01 L212.28,134.46 L212.93,133.92 L213.58,133.38 L214.23,132.83 L214.87,132.29 L215.52,131.75 L216.17,131.21 L216.82,130.67 L217.47,130.13 L218.12,129.59 L218.77,129.05 L219.42,128.51 L220.07,127.97 L220.72,127.44 L221.38,126.90 L222.03,126.37 L222.68,125.83 L223.33,125.30 L223.98,124.77 L224.63,124.23 L225.28,123.70 L225.93,123.17 L226.59,122.64 L227.24,122.11 L227.89,121.58 L228.54,121.05 L229.19,120.53 L229.85,120.00 L230.50,119.47 L231.15,118.95 L231.80,118.42 L232.46,117.90 L233.11,117.38 L233.76,116.85 L234.41,116.33 L235.06,115.81 L235.72,115.29 L236.37,114.77 L237.02,114.25 L237.68,113.74 L238.33,113.22 L238.98,112.70 L239.63,112.19 L240.29,111.67 L240.94,111.16 L241.59,110.65 L242.24,110.13 L242.90,109.62 L243.55,109.11 L244.20,108.60 L244.85,108.09 L245.50,107.58 L246.16,107.08 L246.81,106.57 L247.46,106.06 L248.11,105.56 L248.76,105.05 L249.41,104.55 L250.07,104.05 L250.72,103.55 L251.37,103.04 L252.02,102.54 L252.67,102.04 L253.32,101.55 L253.97,101.05 L254.62,100.55 L255.27,100.05 L255.92,99.56 L256.57,99.07 L257.22,98.57 L257.87,98.08 L258.52,97.59 L259.17,97.10 L259.82,96.61 L260.47,96.12 L261.12,95.63 L261.76,95.14 L262.41,94.65 L263.06,94.17 L263.71,93.68 L264.36,93.20 L265.00,92.72 L265.65,92.23 L266.29,91.75 L266.94,91.27 L267.59,90.79 L268.23,90.32 L268.88,89.84 L269.52,89.36 L270.17,88.89 L270.81,88.41 L271.45,87.94 L272.10,87.46 L272.74,86.99 L273.38,86.52 L274.02,86.05 L274.67,85.58 L275.31,85.11 L275.95,84.65 L276.59,84.18 L277.23,83.71 L277.87,83.25 L278.51,82.79 L279.15,82.33 L279.79,81.86 L280.42,81.40 L281.06,80.94 L281.70,80.49 L282.33,80.03 L282.97,79.57 L283.60,79.12 L284.24,78.66 L284.87,78.21 L285.51,77.76 L286.14,77.31 L286.77,76.86 L287.41,76.41 L288.04,75.96 L288.67,75.51 L289.30,75.07 L289.93,74.62 L290.56,74.18 L291.19,73.73 L291.81,73.29 L292.44,72.85 L293.07,72.41 L293.69,71.97 L294.32,71.54 L294.95,71.10 L295.57,70.66 L296.19,70.23 L296.82,69.80 L297.44,69.37 L298.06,68.94 L298.68,68.51 L299.30,68.08 L299.92,67.65 L300.54,67.22 L301.15,66.80 L301.77,66.37 L302.39,65.95 L303.00,65.53 L303.62,65.11 L304.23,64.69 L304.84,64.27 L305.45,63.85 L306.07,63.44 L306.68,63.02 L307.29,62.61 L307.89,62.20 L308.50,61.79 L309.11,61.38 L309.71,60.97 L310.32,60.56 L310.92,60.15 L311.53,59.75 L312.13,59.35 L312.73,58.94 L313.33,58.54 L313.93,58.14 L314.53,57.74 L315.13,57.35 L315.72,56.95 L316.32,56.55 L316.91,56.16 L317.51,55.77 L318.10,55.38 L318.69,54.99 L319.28,54.60 L319.87,54.21 L320.46,53.82 L321.04,53.44 L321.63,53.06 L322.21,52.67 L322.80,52.29 L323.38,51.91 L323.96,51.54 L324.54,51.16 L325.12,50.78 L325.70,50.41 L326.28,50.04 L326.85,49.66 L327.43,49.29 L328.00,48.93 L328.57,48.56 L329.14,48.19 L329.71,47.83 L330.28,47.46 L330.85,47.10 L331.41,46.74 L331.98,46.38 L332.54,46.03 L333.10,45.67 L333.66,45.31 L334.22,44.96 L334.78,44.61 L335.33,44.26 L335.89,43.91 L336.44,43.56 L336.99,43.22 L337.55,42.87 L338.09,42.53 L338.64,42.19 L339.19,41.85 L339.73,41.51 L340.28,41.17 L340.82,40.83 L341.36,40.50 L341.90,40.17 L342.44,39.84 L342.97,39.51 L343.51,39.18 L344.04,38.85 L344.57,38.53 L345.10,38.20 L345.63,37.88 L346.15,37.56 L346.68,37.24 L347.20,36.93 L347.72,36.61 L348.24,36.30 L348.76,35.98 L349.28,35.67 L349.79,35.36 L350.31,35.05 L350.82,34.75 L351.33,34.44 L351.84,34.14 L352.34,33.84 L352.85,33.54 L353.35,33.24 L353.85,32.95 L354.35,32.65 L354.85,32.36 L355.34,32.07 L355.84,31.78 L356.33,31.49 L356.82,31.20 L357.31,30.92 L357.79,30.64 L358.28,30.36 L358.76,30.08 L359.24,29.80 L359.72,29.52 L360.20,29.25 L360.67,28.98 L361.14,28.70 L361.61,28.44 L362.08,28.17 L362.55,27.90 L363.01,27.64 L363.48,27.38 L363.94,27.12 L364.40,26.86 L364.85,26.60 L365.31,26.35 L365.76,26.10 L366.21,25.84 L366.66,25.59 L367.10,25.35 L367.54,25.10 L367.99,24.86 L368.43,24.62 L368.86,24.38 L369.30,24.14 L369.73,23.90 L370.16,23.67 L370.59,23.44 L371.01,23.21 L371.44,22.98 L371.86,22.75 L372.28,22.52 L372.69,22.30 L373.11,22.08 L373.52,21.86 L373.93,21.65 L374.33,21.43 L374.74,21.22 L375.14,21.01 L375.54,20.80 L375.94,20.59 L376.33,20.38 L376.72,20.18 L377.11,19.98 L377.50,19.78 L377.89,19.58 L378.27,19.39 L378.65,19.20 L379.02,19.00 L379.40,18.82 L379.77,18.63" stroke="#ff8000" stroke-width="2.7" stroke-dasharray="17.2 9.31"/>
</g>
<path d="M66.50,349.5 v-3.2 M66.50,0.5 v3.2 M49.5,331.90 h3.2 M398.5,331.90 h-3.2 M83.59,349.5 v-1.9 M83.59,0.5 v1.9 M49.5,314.82 h1.9 M398.5,314.82 h-1.9 M100.68,349.5 v-1.9 M100.68,0.5 v1.9 M49.5,297.74 h1.9 M398.5,297.74 h-1.9 M117.77,349.5 v-1.9 M117.77,0.5 v1.9 M49.5,280.66 h1.9 M398.5,280.66 h-1.9 M134.86,349.5 v-3.2 M134.86,0.5 v3.2 M49.5,263.58 h3.2 M398.5,263.58 h-3.2 M151.95,349.5 v-1.9 M151.95,0.5 v1.9 M49.5,246.50 h1.9 M398.5,246.50 h-1.9 M169.04,349.5 v-1.9 M169.04,0.5 v1.9 M49.5,229.42 h1.9 M398.5,229.42 h-1.9 M186.13,349.5 v-1.9 M186.13,0.5 v1.9 M49.5,212.34 h1.9 M398.5,212.34 h-1.9 M203.22,349.5 v-3.2 M203.22,0.5 v3.2 M49.5,195.26 h3.2 M398.5,195.26 h-3.2 M220.31,349.5 v-1.9 M220.31,0.5 v1.9 M49.5,178.18 h1.9 M398.5,178.18 h-1.9 M237.40,349.5 v-1.9 M237.40,0.5 v1.9 M49.5,161.10 h1.9 M398.5,161.10 h-1.9 M254.49,349.5 v-1.9 M254.49,0.5 v1.9 M49.5,144.02 h1.9 M398.5,144.02 h-1.9 M271.58,349.5 v-3.2 M271.58,0.5 v3.2 M49.5,126.94 h3.2 M398.5,126.94 h-3.2 M288.67,349.5 v-1.9 M288.67,0.5 v1.9 M49.5,109.86 h1.9 M398.5,109.86 h-1.9 M305.76,349.5 v-1.9 M305.76,0.5 v1.9 M49.5,92.78 h1.9 M398.5,92.78 h-1.9 M322.85,349.5 v-1.9 M322.85,0.5 v1.9 M49.5,75.70 h1.9 M398.5,75.70 h-1.9 M339.94,349.5 v-3.2 M339.94,0.5 v3.2 M49.5,58.62 h3.2 M398.5,58.62 h-3.2 M357.03,349.5 v-1.9 M357.03,0.5 v1.9 M49.5,41.54 h1.9 M398.5,41.54 h-1.9 M374.12,349.5 v-1.9 M374.12,0.5 v1.9 M49.5,24.46 h1.9 M398.5,24.46 h-1.9 M391.21,349.5 v-1.9 M391.21,0.5 v1.9 M49.5,7.38 h1.9 M398.5,7.38 h-1.9" stroke="#3a3a3a" stroke-width="0.9" fill="none"/>
<rect x="49.5" y="0.5" width="349.0" height="349.0" fill="none" stroke="#3a3a3a" stroke-width="1"/>
<g class="ser">
<text x="66.50" y="366.8" text-anchor="middle">0</text>
<text x="134.86" y="366.8" text-anchor="middle">200</text>
<text x="203.22" y="366.8" text-anchor="middle">400</text>
<text x="271.58" y="366.8" text-anchor="middle">600</text>
<text x="339.94" y="366.8" text-anchor="middle">800</text>
<text x="45.2" y="337.50" text-anchor="end">0</text>
<text x="45.2" y="269.18" text-anchor="end">200</text>
<text x="45.2" y="200.86" text-anchor="end">400</text>
<text x="45.2" y="132.54" text-anchor="end">600</text>
<text x="45.2" y="64.22" text-anchor="end">800</text>
<text x="65.8" y="36.6">WD Model</text>
<text x="204.3" y="390.2"><tspan font-style="italic">ν</tspan><tspan font-style="italic" font-size="11" dy="1.4">L</tspan><tspan dy="-1.4" dx="0.5">, Hz</tspan></text>
<text transform="translate(13.6,196.8) rotate(-90)"><tspan font-style="italic">ν</tspan><tspan font-style="italic" font-size="11.7" dy="2.2">U</tspan><tspan dy="-2.2" dx="1.5">, Hz</tspan></text>
</g>
<g fill="none">
<path d="M250,178.2 H282" stroke="#000" stroke-width="1.5"/>
<path d="M250,204.1 H282" stroke="#0000ff" stroke-width="1.8" stroke-dasharray="5.4 3.5"/>
<path d="M250,229.9 H282" stroke="#ff0000" stroke-width="1.8" stroke-dasharray="1.7 3.9 5 3.9"/>
<path d="M250,255.9 H282" stroke="#996633" stroke-width="1.7" stroke-dasharray="18.5 4.4"/>
<path d="M250,281.8 H282" stroke="#ff8000" stroke-width="2.1" stroke-dasharray="18.3 9.2"/>
</g>
<g class="san">
<text x="288.5" y="182.2">Schw BH</text>
<text x="288.5" y="208.1"><tspan font-style="italic">a</tspan>=0.95; <tspan font-style="italic">c</tspan><tspan font-style="italic" font-size="10.2" dy="2.8">O</tspan><tspan dy="-2.8">/</tspan><tspan font-style="italic">M</tspan><tspan font-size="10.2" dy="-4.4">2</tspan><tspan dy="4.4" dx="0.5">=10</tspan></text>
<text x="288.5" y="233.9"><tspan font-style="italic">a</tspan>=0.95; <tspan font-style="italic">c</tspan><tspan font-style="italic" font-size="10.2" dy="2.8">O</tspan><tspan dy="-2.8">/</tspan><tspan font-style="italic">M</tspan><tspan font-size="10.2" dy="-4.4">2</tspan><tspan dy="4.4" dx="0.5">=15</tspan></text>
<text x="288.5" y="259.9"><tspan font-style="italic">a</tspan>=1.05; <tspan font-style="italic">c</tspan><tspan font-style="italic" font-size="10.2" dy="2.8">O</tspan><tspan dy="-2.8">/</tspan><tspan font-style="italic">M</tspan><tspan font-size="10.2" dy="-4.4">2</tspan><tspan dy="4.4" dx="0.5">=10</tspan></text>
<text x="288.5" y="285.8"><tspan font-style="italic">a</tspan>=1.05; <tspan font-style="italic">c</tspan><tspan font-style="italic" font-size="10.2" dy="2.8">O</tspan><tspan dy="-2.8">/</tspan><tspan font-style="italic">M</tspan><tspan font-size="10.2" dy="-4.4">2</tspan><tspan dy="4.4" dx="0.5">=15</tspan></text>
</g>
</svg>
</body></html>
